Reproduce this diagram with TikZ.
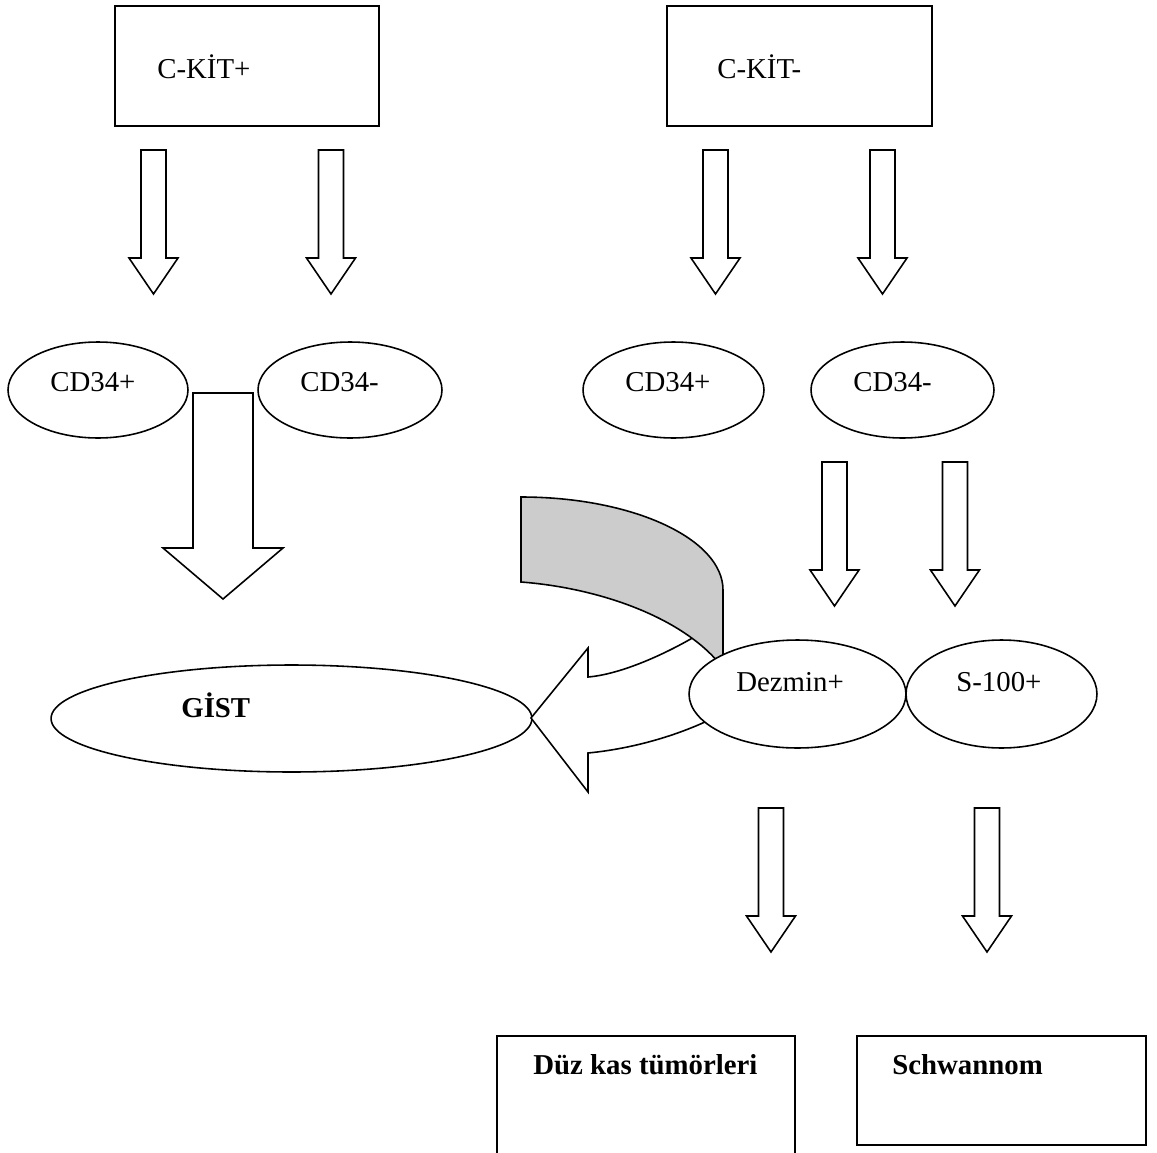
\documentclass[tikz,border=0pt]{standalone}
\usepackage{fontspec}
\setmainfont{Liberation Serif}
\usepackage{tikz}
\usetikzlibrary{shapes.geometric}
\definecolor{backgray}{HTML}{CCCCCC}

\begin{document}
\begin{tikzpicture}[x=0.02cm,y=-0.02cm,
  box/.style={draw,line width=1.3pt,rectangle,inner sep=0pt},
  oval/.style={draw,line width=0.9pt,ellipse,fill=white,inner sep=0pt},
  txt/.style={anchor=base west,inner sep=0pt,font=\fontsize{16.4}{19}\selectfont},
  btxt/.style={anchor=base west,inner sep=0pt,font=\fontsize{16.4}{19}\selectfont\bfseries},
  barrow/.style={draw,line width=0.9pt,fill=white,line join=miter}]
\useasboundingbox (0,0) rectangle (1157,1153);
\clip (0,0) rectangle (1157,1153);

% top boxes
\node[box,minimum width=5.28cm,minimum height=2.4cm] (ckitp) at (247,66) {};
\node[box,minimum width=5.3cm,minimum height=2.4cm] (ckitm) at (799.5,66) {};

% CD34 ovals
\node[oval,minimum width=3.6cm,minimum height=1.92cm] (cdpl) at (98,390) {};
\node[oval,minimum width=3.68cm,minimum height=1.92cm] (cdml) at (350,390) {};
\node[oval,minimum width=3.62cm,minimum height=1.92cm] (cdpr) at (673.5,390) {};
\node[oval,minimum width=3.66cm,minimum height=1.92cm] (cdmr) at (902.5,390) {};

\node[oval,minimum width=9.62cm,minimum height=2.14cm] (gist) at (291.5,718.5) {};

% block arrows
\foreach \x/\t/\b/\p in {153.5/150/258/294, 331/150/258/294, 715.5/150/258/294, 882.5/150/258/294,
                          834.5/462/570/606, 955/462/570/606, 771/808/916/952, 987/808/916/952}
  \draw[barrow] (\x-12.5,\t) -- (\x+12.5,\t) -- (\x+12.5,\b) -- (\x+24.5,\b)
    -- (\x,\p) -- (\x-24.5,\b) -- (\x-12.5,\b) -- cycle;
\draw[barrow] (193,393) -- (253,393) -- (253,548) -- (283,548) -- (223,599)
  -- (163,548) -- (193,548) -- cycle;

% curved arrow to GIST
\draw[barrow] (718,622) .. controls (680,648) and (625,674) .. (588,677) -- (588,648)
  -- (531,718) -- (588,792) -- (588,753) .. controls (640,748) and (700,730) .. (745,700)
  -- (722,665) -- (722,640) -- cycle;
\draw[line width=0.9pt,fill=backgray] (521,497) .. controls (633,497) and (723,539) .. (723,590)
  -- (723,668) .. controls (685,618) and (600,588) .. (521,582) -- cycle;

\node[oval,minimum width=4.34cm,minimum height=2.16cm] (dez) at (797.5,694) {};
\node[oval,minimum width=3.82cm,minimum height=2.16cm] (s100) at (1001.5,694) {};

% bottom boxes
\node[box,minimum width=5.96cm,minimum height=2.56cm] (duz) at (646,1100) {};
\node[box,minimum width=5.78cm,minimum height=2.18cm] (schw) at (1001.5,1090.5) {};

% texts
\node[txt] (ckitp-t) at (157,78) {C-KİT+};
\node[txt] (ckitm-t) at (717,78) {C-KİT-};
\node[txt] (cdpl-t) at (50,391) {CD34+};
\node[txt] (cdml-t) at (300,391) {CD34-};
\node[txt] (cdpr-t) at (625,391) {CD34+};
\node[txt] (cdmr-t) at (853,391) {CD34-};
\node[btxt] (gist-t) at (181,717) {GİST};
\node[txt] (dez-t) at (736,691) {Dezmin+};
\node[txt] (s100-t) at (956,691) {S-100+};
\node[btxt] (duz-t) at (533,1074) {Düz kas tümörleri};
\node[btxt] (schw-t) at (892,1074) {Schwannom};
\end{tikzpicture}
\end{document}
